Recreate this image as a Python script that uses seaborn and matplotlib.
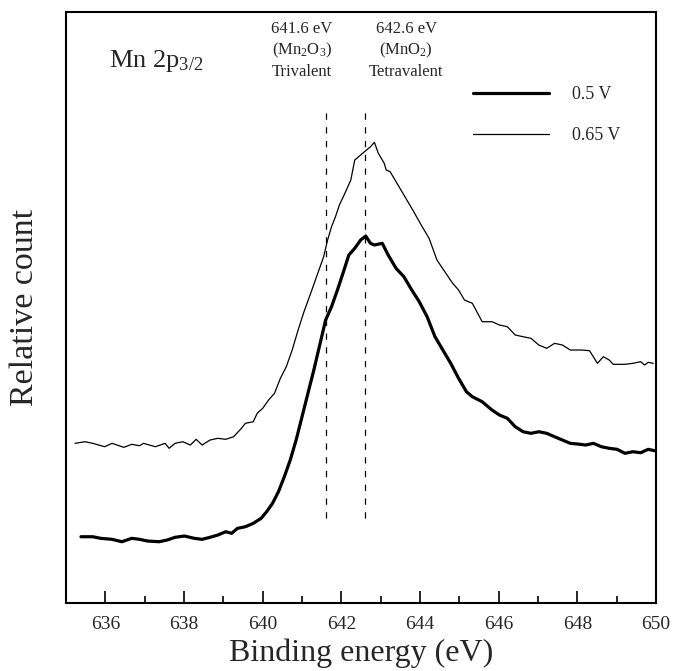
import numpy as np
import pandas as pd
import matplotlib
matplotlib.use("Agg")
import matplotlib.pyplot as plt
from matplotlib.ticker import MultipleLocator
import seaborn as sns

# Dữ liệu (trục y: đơn vị tương đối)
be_05 = [635.38, 635.68, 635.88, 636.17, 636.42, 636.67, 636.87, 637.07, 637.37, 637.57,
         637.77, 638.01, 638.26, 638.46, 638.66, 638.86, 639.06, 639.21, 639.36, 639.56,
         639.76, 639.96, 640.10, 640.25, 640.40, 640.55, 640.70, 640.85, 641.00, 641.15,
         641.30, 641.45, 641.60, 641.75, 641.90, 642.04, 642.19, 642.34, 642.49, 642.62,
         642.74, 642.84, 643.04, 643.19, 643.39, 643.59, 643.79, 643.98, 644.18, 644.38,
         644.58, 644.78, 644.98, 645.18, 645.33, 645.58, 645.83, 646.02, 646.22, 646.42,
         646.62, 646.82, 647.02, 647.22, 647.42, 647.62, 647.82, 648.01, 648.21, 648.41,
         648.61, 648.81, 649.01, 649.21, 649.41, 649.61, 649.80, 650.00]
count_05 = [66.3, 66.3, 64.7, 63.7, 61.3, 64.7, 63.7, 62.0, 61.3, 63.0,
            65.7, 67.0, 64.7, 63.7, 65.7, 68.0, 71.3, 69.7, 74.7, 76.3,
            79.7, 84.7, 91.3, 99.7, 111.3, 126.3, 143.0, 163.0, 186.3, 209.7,
            233.0, 258.0, 283.0, 296.3, 313.0, 329.7, 348.0, 354.7, 363.0, 367.0,
            359.7, 358.0, 359.7, 348.0, 334.7, 326.3, 313.0, 301.3, 286.3, 266.3,
            253.0, 239.7, 224.7, 211.3, 206.3, 201.3, 193.0, 188.0, 184.7, 176.3,
            171.3, 169.7, 171.3, 169.7, 166.3, 163.0, 159.7, 159.0, 158.0, 159.7,
            156.3, 154.7, 153.7, 149.7, 151.3, 150.3, 153.7, 152.0]

be_065 = [635.23, 635.48, 635.68, 635.98, 636.17, 636.47, 636.67, 636.87, 636.97, 637.27,
          637.52, 637.62, 637.77, 637.97, 638.16, 638.31, 638.46, 638.66, 638.86, 639.06,
          639.26, 639.46, 639.56, 639.76, 639.86, 640.00, 640.15, 640.30, 640.45, 640.60,
          640.75, 640.90, 641.05, 641.25, 641.40, 641.55, 641.65, 641.75, 641.85, 641.95,
          642.09, 642.24, 642.34, 642.44, 642.54, 642.64, 642.74, 642.84, 642.94, 643.09,
          643.14, 643.24, 643.44, 643.64, 643.84, 644.03, 644.23, 644.43, 644.63, 644.83,
          644.98, 645.13, 645.33, 645.58, 645.83, 646.02, 646.22, 646.42, 646.62, 646.82,
          647.02, 647.22, 647.42, 647.62, 647.82, 648.11, 648.31, 648.51, 648.66, 648.81,
          648.91, 649.21, 649.41, 649.61, 649.71, 649.80, 649.93]
count_065 = [159.7, 161.3, 159.7, 156.3, 159.7, 155.7, 158.7, 157.3, 159.7, 156.3,
             159.7, 154.7, 159.7, 161.3, 158.0, 163.7, 158.0, 163.0, 164.7, 163.7,
             166.3, 174.7, 179.7, 181.3, 189.7, 194.7, 203.0, 209.7, 224.7, 236.3,
             253.0, 273.0, 291.3, 313.0, 329.7, 346.3, 363.0, 376.3, 386.3, 398.0,
             409.7, 423.0, 443.0, 446.3, 449.7, 453.0, 456.3, 460.7, 449.7, 439.7,
             433.0, 431.3, 418.0, 404.7, 391.3, 378.0, 364.7, 343.0, 331.3, 319.7,
             313.0, 303.0, 299.7, 281.3, 281.3, 278.0, 276.3, 268.0, 266.3, 264.7,
             258.0, 254.7, 259.7, 258.0, 253.0, 253.0, 252.3, 239.7, 246.3, 243.0,
             238.7, 238.7, 239.7, 241.3, 238.0, 240.7, 239.7]

ref_peaks = [641.6, 642.6]
ref_labels = ["641.6 eV\n(Mn$_2$O$_3$)\nTrivalent", "642.6 eV\n(MnO$_2$)\nTetravalent"]
ref_label_x = [641.0, 643.65]
series_labels = ["0.5 V", "0.65 V"]
x_ticks = list(range(636, 651, 2))

sns.set_theme(style="white")
plt.rcParams['font.family'] = ['Liberation Serif', 'DejaVu Serif']
plt.rcParams['mathtext.fontset'] = 'custom'
plt.rcParams['mathtext.rm'] = 'Liberation Serif'
plt.rcParams['mathtext.default'] = 'regular'

df_05 = pd.DataFrame({"be": be_05, "count": count_05})
df_065 = pd.DataFrame({"be": be_065, "count": count_065})

fig = plt.figure(figsize=(6.73, 6.71), dpi=100)
ax = fig.add_axes([0.0981, 0.1013, 0.8767, 0.8808])

sns.lineplot(data=df_05, x="be", y="count", ax=ax, color="black", linewidth=2.3,
             label=series_labels[0], sort=False)
sns.lineplot(data=df_065, x="be", y="count", ax=ax, color="black", linewidth=0.9,
             label=series_labels[1], sort=False)

# đường tham chiếu nét đứt
for xp in ref_peaks:
    ax.vlines(xp, 85, 490, colors="black", linestyles=(0, (5, 6)), linewidth=0.9)

for xt, lab in zip(ref_label_x, ref_labels):
    ax.text(xt, 527, lab, ha="center", va="baseline", fontsize=12, linespacing=1.3)

ax.text(636.1, 536, "Mn 2p$_{3/2}$", ha="left", va="baseline", fontsize=19)

ax.set_xlim(635, 650)
ax.set_ylim(0, 591)
ax.set_xticks(x_ticks)
ax.xaxis.set_minor_locator(MultipleLocator(1))
ax.set_yticks([])
ax.tick_params(axis="x", which="major", direction="in", length=8.5, width=1.4,
               labelsize=14, pad=9, bottom=True, top=False)
ax.tick_params(axis="x", which="minor", direction="in", length=5, width=1.4,
               bottom=True, top=False)
for sp in ax.spines.values():
    sp.set_color("black")
    sp.set_linewidth(1.5)

ax.set_xlabel("Binding energy (eV)", fontsize=23, labelpad=4)
ax.set_ylabel("Relative count", fontsize=24.5, labelpad=19)

ax.legend(loc="upper left", bbox_to_anchor=(0.69, 0.874), frameon=False,
          fontsize=13, handlelength=4.2, handletextpad=1.3, labelspacing=1.3,
          borderpad=0, borderaxespad=0)

fig.savefig("out.png", dpi=100)
